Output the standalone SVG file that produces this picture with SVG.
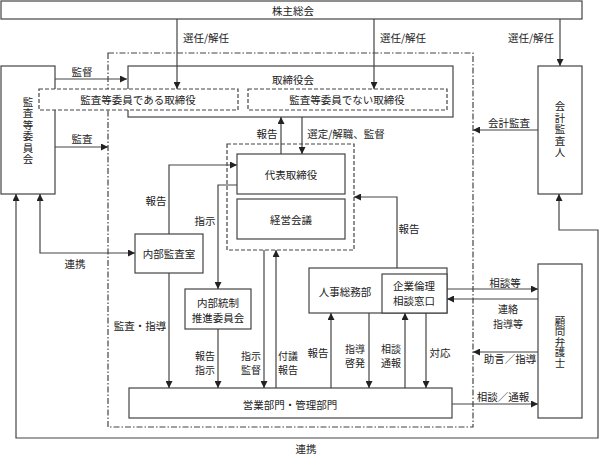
<svg xmlns="http://www.w3.org/2000/svg" width="600" height="454" viewBox="0 0 600 454">
<defs>
<marker id="ah" viewBox="0 0 8 8" refX="8" refY="4" markerWidth="7" markerHeight="7" markerUnits="userSpaceOnUse" orient="auto-start-reverse">
<path d="M0,0 L8,4 L0,8 z" fill="#222"/>
</marker>
<style>
text{font-family:"Noto Sans CJK JP","Noto Sans CJK SC",sans-serif;font-size:10.5px;fill:#222;dominant-baseline:central;text-anchor:middle}
.t{font-size:10px}
.v{writing-mode:vertical-rl;text-orientation:upright}
.box{fill:#fff;stroke:#444;stroke-width:1.2}
.dbox{fill:none;stroke:#444;stroke-width:1.2;stroke-dasharray:4,2}
.ddbox{fill:none;stroke:#444;stroke-width:1.2;stroke-dasharray:6,2,1.5,2}
.c{fill:none;stroke:#444;stroke-width:1.2}
.e{marker-end:url(#ah)}
.s{marker-start:url(#ah)}
</style>
</defs>
<rect width="600" height="454" fill="#fff"/>

<g id="group-boundary">
<rect class="ddbox" x="108" y="53" width="365" height="374"/>
</g>

<g id="shareholders">
<rect class="box" x="1" y="1" width="581" height="18"/>
<text x="293" y="10">株主総会</text>
</g>

<g id="audit-committee">
<rect class="box" x="1" y="66" width="54" height="128"/>
<text class="v" x="28" y="131" style="letter-spacing:1px">監査等委員会</text>
</g>

<g id="board">
<rect class="box" x="128" y="66" width="325" height="51"/>
<text x="293" y="79">取締役会</text>
</g>

<g id="audit-directors">
<rect class="box" x="39" y="89" width="199" height="21" style="stroke-dasharray:4,2"/>
<text x="138" y="99.5">監査等委員である取締役</text>
</g>

<g id="non-audit-directors">
<rect class="box" x="248" y="89" width="199" height="21" style="stroke-dasharray:4,2"/>
<text x="347" y="99.5">監査等委員でない取締役</text>
</g>

<g id="accounting-auditor">
<rect class="box" x="538" y="66" width="44" height="128"/>
<text class="v" x="560" y="130" style="letter-spacing:1px">会計監査人</text>
</g>

<g id="exec-group">
<rect class="dbox" x="227" y="144" width="127" height="106"/>
</g>

<g id="representative-director">
<rect class="box" x="237" y="154" width="108" height="40"/>
<text x="291" y="174">代表取締役</text>
</g>

<g id="management-meeting">
<rect class="box" x="237" y="199" width="108" height="40"/>
<text x="291" y="219">経営会議</text>
</g>

<g id="internal-audit">
<rect class="box" x="135" y="234" width="68" height="39"/>
<text x="169" y="253.5">内部監査室</text>
</g>

<g id="internal-control">
<rect class="box" x="185" y="289" width="66" height="40"/>
<text x="218" y="302">内部統制</text>
<text x="218" y="317">推進委員会</text>
</g>

<g id="hr-general-affairs">
<rect class="box" x="309" y="268" width="138" height="45"/>
<text x="345" y="291">人事総務部</text>
</g>

<g id="ethics-desk">
<rect class="box" x="382" y="274" width="65" height="39"/>
<text x="414" y="285">企業倫理</text>
<text x="414" y="300">相談窓口</text>
</g>

<g id="business-divisions">
<rect class="box" x="129" y="388" width="323" height="30"/>
<text x="290" y="404">営業部門・管理部門</text>
</g>

<g id="legal-counsel">
<rect class="box" x="538" y="264" width="44" height="154"/>
<text class="v" x="560" y="342">顧問弁護士</text>
</g>

<g id="connectors">
<path class="c e" d="M177,19 V89"/>
<path class="c e" d="M374,19 V89"/>
<path class="c e" d="M560,19 V66"/>
<path class="c e" d="M55,79 H127"/>
<path class="c e" d="M55,147 H108"/>
<path class="c e" d="M538,130 H473"/>
<path class="c e" d="M281,154 V117"/>
<path class="c e" d="M302,117 V154"/>
<path class="c e" d="M169,234 V165 H237"/>
<path class="c e s" d="M40,194 V253 H135"/>
<path class="c e" d="M237,185 H218 V289"/>
<path class="c e" d="M169,273 V388"/>
<path class="c e" d="M218,329 V388"/>
<path class="c e" d="M264,250 V388"/>
<path class="c e" d="M276,388 V250"/>
<path class="c e" d="M397,268 V197 H354"/>
<path class="c e" d="M331,388 V313"/>
<path class="c e" d="M369,313 V388"/>
<path class="c e" d="M405,388 V313"/>
<path class="c e" d="M426,313 V388"/>
<path class="c e" d="M452,404 H538"/>
<path class="c e" d="M447,289 H538"/>
<path class="c e" d="M538,299 H447"/>
<path class="c e" d="M538,352 H473"/>
<path class="c e s" d="M16,194 V438 H598 V230 H559 V194"/>
</g>

<g id="labels">
<text x="206" y="37">選任/解任</text>
<text x="403" y="37">選任/解任</text>
<text x="531" y="37">選任/解任</text>
<text x="82" y="71">監督</text>
<text x="82" y="138">監査</text>
<text x="509" y="122">会計監査</text>
<text x="267" y="133">報告</text>
<text x="346" y="133">選定/解職、監督</text>
<text x="156" y="200">報告</text>
<text x="205" y="220">指示</text>
<text x="75" y="263">連携</text>
<text x="140" y="325">監査・指導</text>
<text class="t" x="205" y="355">報告</text>
<text class="t" x="205" y="369.5">指示</text>
<text class="t" x="251" y="355">指示</text>
<text class="t" x="251" y="369.5">監督</text>
<text class="t" x="288" y="355">付議</text>
<text class="t" x="288" y="369.5">報告</text>
<text x="318" y="352">報告</text>
<text class="t" x="355" y="348">指導</text>
<text class="t" x="355" y="362.5">啓発</text>
<text class="t" x="391" y="348">相談</text>
<text class="t" x="391" y="362.5">通報</text>
<text x="440" y="352">対応</text>
<text x="409" y="228">報告</text>
<text x="505" y="282">相談等</text>
<text class="t" x="508" y="308.5">連絡</text>
<text class="t" x="508" y="323">指導等</text>
<text x="510" y="358">助言／指導</text>
<text x="503" y="396">相談／通報</text>
<text x="306" y="448">連携</text>
</g>
</svg>
